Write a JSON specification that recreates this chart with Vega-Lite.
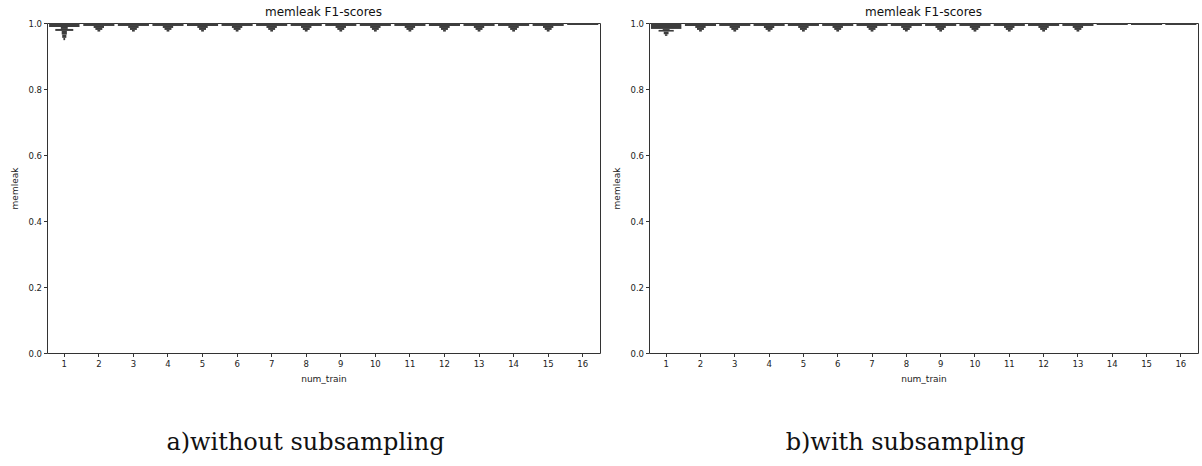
{
  "$schema": "https://vega.github.io/schema/vega-lite/v6.json",
  "background": "white",
  "padding": {"left": 10, "top": 5, "right": 0, "bottom": 0},
  "spacing": 11,
  "datasets": {
    "a": [
      {"n":1,"lo":0.988,"hi":1.0,"w":0.88},{"n":1,"lo":0.982,"hi":0.988,"w":0.2},{"n":1,"lo":0.976,"hi":0.982,"w":0.52},{"n":1,"lo":0.965,"hi":0.976,"w":0.15},{"n":1,"lo":0.955,"hi":0.965,"w":0.12},{"n":1,"lo":0.948,"hi":0.955,"w":0.05},
      {"n":2,"lo":0.991,"hi":1.0,"w":0.9},{"n":2,"lo":0.985,"hi":0.991,"w":0.3},{"n":2,"lo":0.979,"hi":0.985,"w":0.2},{"n":2,"lo":0.974,"hi":0.979,"w":0.08},
      {"n":3,"lo":0.991,"hi":1.0,"w":0.9},{"n":3,"lo":0.985,"hi":0.991,"w":0.3},{"n":3,"lo":0.979,"hi":0.985,"w":0.2},{"n":3,"lo":0.974,"hi":0.979,"w":0.08},
      {"n":4,"lo":0.991,"hi":1.0,"w":0.9},{"n":4,"lo":0.985,"hi":0.991,"w":0.3},{"n":4,"lo":0.979,"hi":0.985,"w":0.2},{"n":4,"lo":0.974,"hi":0.979,"w":0.08},
      {"n":5,"lo":0.991,"hi":1.0,"w":0.9},{"n":5,"lo":0.985,"hi":0.991,"w":0.3},{"n":5,"lo":0.979,"hi":0.985,"w":0.2},{"n":5,"lo":0.974,"hi":0.979,"w":0.08},
      {"n":6,"lo":0.991,"hi":1.0,"w":0.9},{"n":6,"lo":0.985,"hi":0.991,"w":0.3},{"n":6,"lo":0.979,"hi":0.985,"w":0.2},{"n":6,"lo":0.974,"hi":0.979,"w":0.08},
      {"n":7,"lo":0.991,"hi":1.0,"w":0.9},{"n":7,"lo":0.985,"hi":0.991,"w":0.3},{"n":7,"lo":0.979,"hi":0.985,"w":0.2},{"n":7,"lo":0.974,"hi":0.979,"w":0.08},
      {"n":8,"lo":0.991,"hi":1.0,"w":0.9},{"n":8,"lo":0.985,"hi":0.991,"w":0.3},{"n":8,"lo":0.979,"hi":0.985,"w":0.2},{"n":8,"lo":0.974,"hi":0.979,"w":0.08},
      {"n":9,"lo":0.991,"hi":1.0,"w":0.9},{"n":9,"lo":0.985,"hi":0.991,"w":0.3},{"n":9,"lo":0.979,"hi":0.985,"w":0.2},{"n":9,"lo":0.974,"hi":0.979,"w":0.08},
      {"n":10,"lo":0.991,"hi":1.0,"w":0.9},{"n":10,"lo":0.985,"hi":0.991,"w":0.3},{"n":10,"lo":0.979,"hi":0.985,"w":0.2},{"n":10,"lo":0.974,"hi":0.979,"w":0.08},
      {"n":11,"lo":0.991,"hi":1.0,"w":0.9},{"n":11,"lo":0.985,"hi":0.991,"w":0.3},{"n":11,"lo":0.979,"hi":0.985,"w":0.2},{"n":11,"lo":0.974,"hi":0.979,"w":0.08},
      {"n":12,"lo":0.991,"hi":1.0,"w":0.9},{"n":12,"lo":0.985,"hi":0.991,"w":0.3},{"n":12,"lo":0.979,"hi":0.985,"w":0.2},{"n":12,"lo":0.974,"hi":0.979,"w":0.08},
      {"n":13,"lo":0.991,"hi":1.0,"w":0.9},{"n":13,"lo":0.985,"hi":0.991,"w":0.3},{"n":13,"lo":0.979,"hi":0.985,"w":0.2},{"n":13,"lo":0.974,"hi":0.979,"w":0.08},
      {"n":14,"lo":0.991,"hi":1.0,"w":0.9},{"n":14,"lo":0.985,"hi":0.991,"w":0.3},{"n":14,"lo":0.979,"hi":0.985,"w":0.2},{"n":14,"lo":0.974,"hi":0.979,"w":0.08},
      {"n":15,"lo":0.991,"hi":1.0,"w":0.9},{"n":15,"lo":0.985,"hi":0.991,"w":0.3},{"n":15,"lo":0.979,"hi":0.985,"w":0.2},{"n":15,"lo":0.974,"hi":0.979,"w":0.08},
      {"n":16,"lo":0.994,"hi":1.0,"w":0.9}
    ],
    "b": [
      {"n":1,"lo":0.982,"hi":1.0,"w":0.88},{"n":1,"lo":0.979,"hi":0.982,"w":0.2},{"n":1,"lo":0.974,"hi":0.979,"w":0.44},{"n":1,"lo":0.966,"hi":0.974,"w":0.14},{"n":1,"lo":0.961,"hi":0.966,"w":0.07},
      {"n":2,"lo":0.991,"hi":1.0,"w":0.9},{"n":2,"lo":0.985,"hi":0.991,"w":0.3},{"n":2,"lo":0.979,"hi":0.985,"w":0.2},{"n":2,"lo":0.974,"hi":0.979,"w":0.08},
      {"n":3,"lo":0.991,"hi":1.0,"w":0.9},{"n":3,"lo":0.985,"hi":0.991,"w":0.3},{"n":3,"lo":0.979,"hi":0.985,"w":0.2},{"n":3,"lo":0.974,"hi":0.979,"w":0.08},
      {"n":4,"lo":0.991,"hi":1.0,"w":0.9},{"n":4,"lo":0.985,"hi":0.991,"w":0.3},{"n":4,"lo":0.979,"hi":0.985,"w":0.2},{"n":4,"lo":0.974,"hi":0.979,"w":0.08},
      {"n":5,"lo":0.991,"hi":1.0,"w":0.9},{"n":5,"lo":0.985,"hi":0.991,"w":0.3},{"n":5,"lo":0.979,"hi":0.985,"w":0.2},{"n":5,"lo":0.974,"hi":0.979,"w":0.08},
      {"n":6,"lo":0.991,"hi":1.0,"w":0.9},{"n":6,"lo":0.985,"hi":0.991,"w":0.3},{"n":6,"lo":0.979,"hi":0.985,"w":0.2},{"n":6,"lo":0.974,"hi":0.979,"w":0.08},
      {"n":7,"lo":0.991,"hi":1.0,"w":0.9},{"n":7,"lo":0.985,"hi":0.991,"w":0.3},{"n":7,"lo":0.979,"hi":0.985,"w":0.2},{"n":7,"lo":0.974,"hi":0.979,"w":0.08},
      {"n":8,"lo":0.991,"hi":1.0,"w":0.9},{"n":8,"lo":0.985,"hi":0.991,"w":0.3},{"n":8,"lo":0.979,"hi":0.985,"w":0.2},{"n":8,"lo":0.974,"hi":0.979,"w":0.08},
      {"n":9,"lo":0.991,"hi":1.0,"w":0.9},{"n":9,"lo":0.985,"hi":0.991,"w":0.3},{"n":9,"lo":0.979,"hi":0.985,"w":0.2},{"n":9,"lo":0.974,"hi":0.979,"w":0.08},
      {"n":10,"lo":0.991,"hi":1.0,"w":0.9},{"n":10,"lo":0.985,"hi":0.991,"w":0.3},{"n":10,"lo":0.979,"hi":0.985,"w":0.2},{"n":10,"lo":0.974,"hi":0.979,"w":0.08},
      {"n":11,"lo":0.991,"hi":1.0,"w":0.9},{"n":11,"lo":0.985,"hi":0.991,"w":0.3},{"n":11,"lo":0.979,"hi":0.985,"w":0.2},{"n":11,"lo":0.974,"hi":0.979,"w":0.08},
      {"n":12,"lo":0.991,"hi":1.0,"w":0.9},{"n":12,"lo":0.985,"hi":0.991,"w":0.3},{"n":12,"lo":0.979,"hi":0.985,"w":0.2},{"n":12,"lo":0.974,"hi":0.979,"w":0.08},
      {"n":13,"lo":0.991,"hi":1.0,"w":0.9},{"n":13,"lo":0.985,"hi":0.991,"w":0.3},{"n":13,"lo":0.979,"hi":0.985,"w":0.2},{"n":13,"lo":0.974,"hi":0.979,"w":0.08},
      {"n":14,"lo":0.994,"hi":1.0,"w":0.9},
      {"n":15,"lo":0.994,"hi":1.0,"w":0.9},
      {"n":16,"lo":0.994,"hi":1.0,"w":0.9}
    ]
  },
  "hconcat": [
    {
      "title": {"text": "a)without subsampling", "orient": "bottom", "font": "DejaVu Serif", "fontSize": 24, "fontWeight": "normal", "offset": 47, "frame": "bounds", "anchor": "middle", "color": "#111"},
      "vconcat": [
        {
          "width": 553,
          "height": 330,
          "title": {"text": "memleak F1-scores", "fontSize": 12, "font": "DejaVu Sans", "fontWeight": "normal", "offset": 0, "frame": "group", "anchor": "middle", "color": "#111"},
          "data": {"name": "a"},
          "mark": {"type": "bar", "color": "#3d3d3d", "orient": "vertical"},
          "encoding": {
            "x": {"field": "n", "type": "ordinal", "scale": {"paddingInner": 0, "paddingOuter": 0}, "axis": {"title": "num_train", "labelAngle": 0, "labelPadding": 3, "titlePadding": 6}},
            "y": {"field": "lo", "type": "quantitative", "scale": {"domain": [0, 1], "nice": false}, "axis": {"title": "memleak", "values": [0, 0.2, 0.4, 0.6, 0.8, 1.0], "format": ".1f", "titlePadding": 8}},
            "y2": {"field": "hi"},
            "size": {"field": "w", "type": "quantitative", "scale": {"type": "linear", "domain": [0, 1], "range": [0, 34.56], "zero": true}, "legend": null}
          }
        }
      ]
    },
    {
      "title": {"text": "b)with subsampling", "orient": "bottom", "font": "DejaVu Serif", "fontSize": 24, "fontWeight": "normal", "offset": 47, "frame": "bounds", "anchor": "middle", "color": "#111"},
      "vconcat": [
        {
          "width": 549,
          "height": 330,
          "title": {"text": "memleak F1-scores", "fontSize": 12, "font": "DejaVu Sans", "fontWeight": "normal", "offset": 0, "frame": "group", "anchor": "middle", "color": "#111"},
          "data": {"name": "b"},
          "mark": {"type": "bar", "color": "#3d3d3d", "orient": "vertical"},
          "encoding": {
            "x": {"field": "n", "type": "ordinal", "scale": {"paddingInner": 0, "paddingOuter": 0}, "axis": {"title": "num_train", "labelAngle": 0, "labelPadding": 3, "titlePadding": 6}},
            "y": {"field": "lo", "type": "quantitative", "scale": {"domain": [0, 1], "nice": false}, "axis": {"title": "memleak", "values": [0, 0.2, 0.4, 0.6, 0.8, 1.0], "format": ".1f", "titlePadding": 8}},
            "y2": {"field": "hi"},
            "size": {"field": "w", "type": "quantitative", "scale": {"type": "linear", "domain": [0, 1], "range": [0, 34.31], "zero": true}, "legend": null}
          }
        }
      ]
    }
  ],
  "config": {
    "view": {"stroke": "#333", "strokeWidth": 1},
    "axis": {
      "domain": false,
      "grid": false,
      "ticks": true,
      "tickColor": "#333",
      "tickSize": 3.5,
      "labelPadding": 2,
      "labelFont": "DejaVu Sans",
      "labelFontSize": 8.5,
      "labelColor": "#222",
      "titleFont": "DejaVu Sans",
      "titleFontSize": 9,
      "titleFontWeight": "normal",
      "titleColor": "#222"
    }
  }
}
